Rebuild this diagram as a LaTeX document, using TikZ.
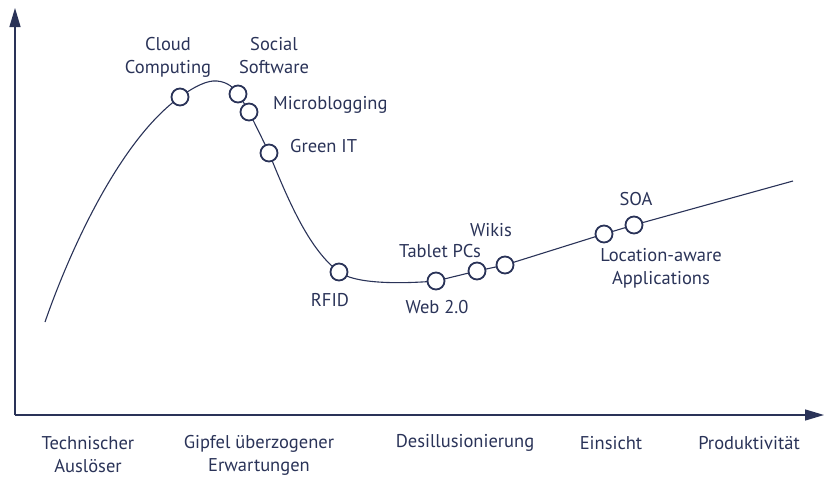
\documentclass[tikz,border=0pt]{standalone}
\usepackage{fontspec}
\setmainfont{PT Sans}
\usetikzlibrary{arrows.meta}
\definecolor{navy}{HTML}{2A3358}
\tikzset{
  axis/.style={draw=navy, line width=1.3pt, -{Triangle[length=19pt,width=11pt]}},
  hype/.style={draw=navy, line width=1.1pt},
  tech/.style={circle, draw=navy, fill=white, line width=1.8pt, minimum size=17pt, inner sep=0pt},
  lbl/.style={text=navy, font=\fontsize{18.5}{23}\selectfont, align=center, inner sep=0pt},
}
\begin{document}
\begin{tikzpicture}[x=1pt,y=-1pt]
\useasboundingbox (0,0) rectangle (825,482);
% axes
\coordinate (o) at (15,415);
\coordinate (ytop) at (15,8);
\coordinate (xend) at (824,415);
\draw[axis] (o) -- (ytop);
\draw[axis] (o) -- (xend);
% hype curve
\draw[hype] (45,322) .. controls (70,250) and (120,140) .. (180,97)
  .. controls (195,86) and (208,80) .. (217,81)
  .. controls (228,82) and (234,88) .. (238,94)
  .. controls (242,100) and (246,106) .. (249,112)
  .. controls (256,126) and (263,140) .. (269,153)
  .. controls (290,205) and (310,250) .. (339,272)
  .. controls (355,284) and (400,284) .. (436,281)
  -- (477,271) -- (505,265) -- (604,234) -- (634,225) -- (793,181);
% technologies on the curve
\node[tech] (cloud) at (180,97) {};
\node[tech] (social) at (238,94) {};
\node[tech] (micro) at (249,112) {};
\node[tech] (green) at (269,153) {};
\node[tech] (rfid) at (339,272) {};
\node[tech] (web) at (436,281) {};
\node[tech] (tablet) at (477,271) {};
\node[tech] (wikis) at (505,265) {};
\node[tech] (loc) at (604,234) {};
\node[tech] (soa) at (634,225) {};
% technology labels
\node[lbl] (cloudL) at (168,57) {Cloud\\Computing};
\node[lbl] (socialL) at (274,56) {Social\\Software};
\node[lbl, anchor=west] (microL) at (273,105) {Microblogging};
\node[lbl, anchor=west] (greenL) at (290,146) {Green IT};
\node[lbl] (rfidL) at (330,300) {RFID};
\node[lbl] (webL) at (437,307) {Web 2.0};
\node[lbl] (tabletL) at (440,251) {Tablet PCs};
\node[lbl] (wikisL) at (491,230) {Wikis};
\node[lbl] (soaL) at (636,199) {SOA};
\node[lbl] (locL) at (661,268) {Location-aware\\Applications};
% phases
\node[lbl] (p1) at (88,455) {Technischer\\Auslöser};
\node[lbl] (p2) at (259,455) {Gipfel überzogener\\Erwartungen};
\node[lbl] (p3) at (465,443) {Desillusionierung};
\node[lbl] (p4) at (611,443) {Einsicht};
\node[lbl] (p5) at (749,443) {Produktivität};
\end{tikzpicture}
\end{document}
